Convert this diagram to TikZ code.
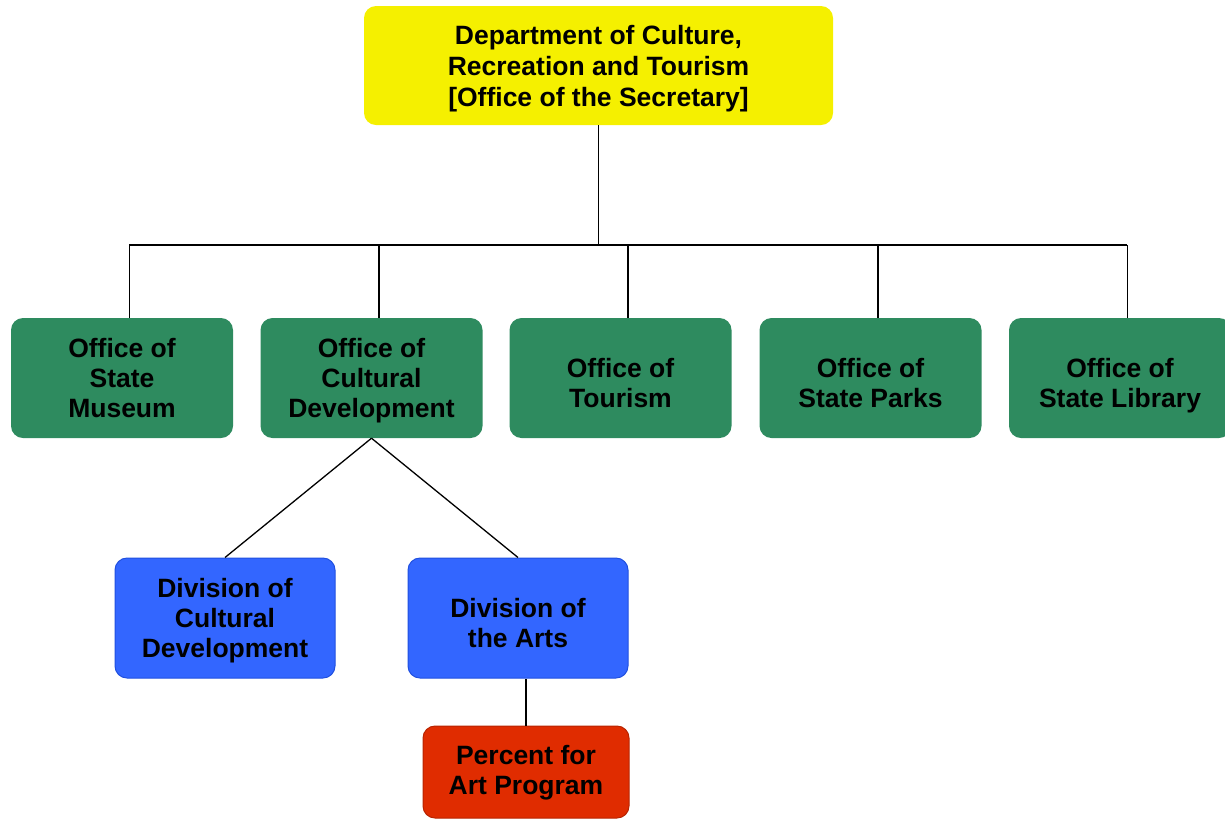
\documentclass[tikz,border=0pt]{standalone}
\usepackage{fontspec}
\setmainfont{Liberation Sans}
\usetikzlibrary{calc}
\definecolor{secyellow}{HTML}{F5F000}
\definecolor{officegreen}{HTML}{2E8B5F}
\definecolor{divblue}{HTML}{3366FF}
\definecolor{divblueedge}{HTML}{2050E0}
\definecolor{progred}{HTML}{E02C00}
\definecolor{progrededge}{HTML}{B82400}
% centred lines with fixed line boxes; #1 is the height of the first line
\newcommand\orgtext[2]{\begin{tabular}{@{}c@{}}\rule{0pt}{#1}#2\end{tabular}}
\begin{document}
\begin{tikzpicture}[x=1pt,y=-1pt,
  orgbox/.style={rounded corners=12pt, inner sep=0pt,
    font=\fontsize{26.5}{30}\selectfont\bfseries, text=black},
  secbox/.style={orgbox, fill=secyellow, minimum width=469pt, minimum height=119pt,
    font=\fontsize{26.5}{31}\selectfont\bfseries},
  officebox/.style={orgbox, fill=officegreen, minimum width=222pt, minimum height=120pt},
  divbox/.style={orgbox, fill=divblue, draw=divblueedge, line width=1pt, minimum width=220pt, minimum height=120pt},
  progbox/.style={orgbox, fill=progred, draw=progrededge, line width=1pt, minimum width=206pt, minimum height=92pt},
  link/.style={draw=black, line width=1.3pt}]
\useasboundingbox (0,0) rectangle (1225,820);

\node[secbox] (sec) at (598.5,65.5) {\orgtext{29pt}{Department of Culture,\\Recreation and Tourism\\{[Office of the Secretary]}}};

\node[officebox] (museum)  at (122,378)   {\orgtext{28pt}{Office of\\State\\Museum}};
\node[officebox] (culture) at (371.5,378) {\orgtext{28pt}{Office of\\Cultural\\Development}};
\node[officebox] (tourism) at (620.5,378) {\orgtext{37pt}{Office of\\Tourism}};
\node[officebox] (parks)   at (870.5,378) {\orgtext{37pt}{Office of\\State Parks}};
\node[officebox] (library) at (1120,378)  {\orgtext{37pt}{Office of\\State Library}};

\node[divbox] (divcult) at (225,618) {\orgtext{28pt}{Division of\\Cultural\\Development}};
\node[divbox] (divarts) at (518,618) {\orgtext{37pt}{Division of\\the Arts}};

\node[progbox] (percent) at (526,772) {\orgtext{24pt}{Percent for\\Art Program}};

% bus from the secretary down to the offices
\coordinate (busL) at (129,245);
\coordinate (busR) at (1127,245);
\draw[link] (sec.south) -- (sec.south |- busL);
\draw[link] (busL) -- (busR);
\foreach \n in {museum,culture,tourism,parks,library}
  \draw[link] ([xshift=7.5pt]\n.north) -- ([xshift=7.5pt]\n.north |- busL);

% divisions under cultural development
\draw[link] (culture.south) -- (divcult.north);
\draw[link] (culture.south) -- (divarts.north);

% program under the arts division
\draw[link] (percent.north) -- (percent.north |- divarts.south);
\end{tikzpicture}
\end{document}
